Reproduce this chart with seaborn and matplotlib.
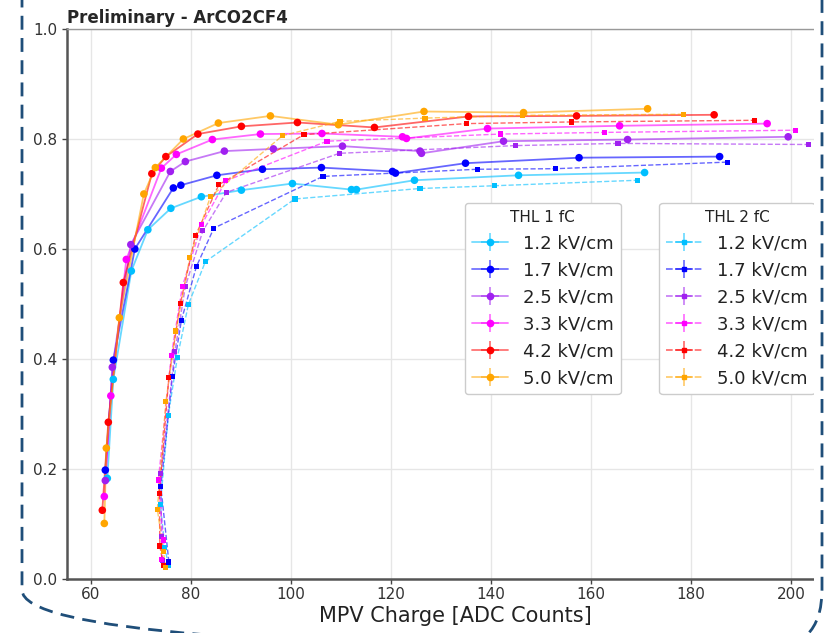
import matplotlib
matplotlib.use("Agg")
import matplotlib.pyplot as plt
import matplotlib.colors as mcolors
import numpy as np
import pandas as pd
import seaborn as sns
from matplotlib.lines import Line2D
from matplotlib.collections import LineCollection
from matplotlib.container import ErrorbarContainer
from matplotlib.patches import FancyBboxPatch, Rectangle
from matplotlib.transforms import Affine2D

# Drift fields and their colours
fields = ["1.2 kV/cm", "1.7 kV/cm", "2.5 kV/cm", "3.3 kV/cm", "4.2 kV/cm", "5.0 kV/cm"]
colors = ["#00bfff", "#0000ff", "#a020f0", "#ff00ff", "#ff0000", "#ffa500"]

# Threshold 1 fC: MPV charge [ADC] and efficiency
q1_12 = [63.3, 64.5, 68.1, 71.4, 76.0, 82.1, 90.1, 100.3, 112.1, 113.1, 124.7, 145.5, 170.7]
e1_12 = [0.183, 0.363, 0.560, 0.635, 0.674, 0.695, 0.707, 0.719, 0.708, 0.708, 0.725, 0.734, 0.739]
q1_17 = [62.9, 64.5, 68.8, 76.5, 78.0, 85.2, 94.3, 106.1, 120.3, 120.9, 134.9, 157.6, 185.7]
e1_17 = [0.198, 0.398, 0.600, 0.711, 0.716, 0.734, 0.745, 0.748, 0.741, 0.738, 0.756, 0.766, 0.768]
q1_25 = [62.9, 64.3, 68.0, 75.9, 78.9, 86.7, 96.5, 110.3, 125.8, 126.1, 142.5, 167.3, 199.4]
e1_25 = [0.179, 0.385, 0.608, 0.741, 0.759, 0.778, 0.782, 0.787, 0.778, 0.774, 0.796, 0.799, 0.804]
q1_33 = [62.7, 64.0, 67.1, 74.1, 77.1, 84.3, 93.9, 106.2, 122.3, 123.1, 139.3, 165.7, 195.2]
e1_33 = [0.150, 0.333, 0.581, 0.747, 0.772, 0.799, 0.809, 0.810, 0.804, 0.801, 0.819, 0.824, 0.828]
q1_42 = [62.3, 63.5, 66.5, 72.2, 75.0, 81.4, 90.1, 101.3, 116.7, 135.5, 157.1, 184.6]
e1_42 = [0.125, 0.285, 0.539, 0.737, 0.768, 0.809, 0.823, 0.830, 0.821, 0.841, 0.842, 0.844]
q1_50 = [62.7, 63.1, 65.7, 70.6, 72.9, 78.5, 85.5, 95.9, 109.5, 126.6, 146.5, 171.3]
e1_50 = [0.101, 0.238, 0.475, 0.700, 0.748, 0.800, 0.829, 0.842, 0.826, 0.850, 0.848, 0.855]

# Threshold 2 fC
q2_12 = [75.5, 74.8, 73.9, 75.5, 77.3, 79.5, 82.9, 100.8, 125.8, 140.7, 169.3]
e2_12 = [0.025, 0.058, 0.135, 0.298, 0.403, 0.499, 0.577, 0.691, 0.710, 0.715, 0.725]
q2_17 = [75.6, 74.0, 76.3, 78.1, 81.1, 84.6, 106.4, 137.3, 152.9, 187.3]
e2_17 = [0.031, 0.168, 0.368, 0.470, 0.568, 0.638, 0.732, 0.745, 0.746, 0.758]
q2_25 = [74.3, 74.1, 74.0, 76.8, 78.9, 82.4, 87.1, 109.7, 144.9, 165.4, 203.5]
e2_25 = [0.033, 0.077, 0.192, 0.413, 0.532, 0.633, 0.703, 0.774, 0.788, 0.792, 0.790]
q2_33 = [74.1, 74.5, 73.5, 76.1, 78.3, 82.2, 87.0, 107.2, 141.9, 162.7, 200.9]
e2_33 = [0.035, 0.071, 0.180, 0.407, 0.532, 0.645, 0.724, 0.796, 0.809, 0.812, 0.816]
q2_42 = [74.5, 73.8, 73.7, 75.6, 77.9, 80.9, 85.6, 102.6, 135.1, 156.1, 192.6]
e2_42 = [0.025, 0.060, 0.155, 0.367, 0.501, 0.624, 0.717, 0.808, 0.828, 0.831, 0.834]
q2_50 = [75.0, 74.5, 73.3, 75.0, 77.0, 79.8, 83.9, 98.3, 109.8, 126.8, 146.3, 178.5]
e2_50 = [0.021, 0.050, 0.127, 0.322, 0.451, 0.585, 0.695, 0.806, 0.832, 0.838, 0.843, 0.845]

thl1 = [(q1_12, e1_12), (q1_17, e1_17), (q1_25, e1_25), (q1_33, e1_33), (q1_42, e1_42), (q1_50, e1_50)]
thl2 = [(q2_12, e2_12), (q2_17, e2_17), (q2_25, e2_25), (q2_33, e2_33), (q2_42, e2_42), (q2_50, e2_50)]


def to_frame(series):
    parts = []
    for name, (q, e) in zip(fields, series):
        parts.append(pd.DataFrame({"charge": q, "eff": e, "field": name}))
    return pd.concat(parts, ignore_index=True)


df1 = to_frame(thl1)
df2 = to_frame(thl2)

sns.set_theme(style="whitegrid", rc={"grid.color": "#e6e6e6", "grid.linewidth": 1.0})
plt.rcParams["font.family"] = ["DejaVu Sans"]

W, H = 828, 633
fig = plt.figure(figsize=(W / 100, H / 100), dpi=100)
ax = fig.add_axes([67 / W, 1 - 579 / H, (844 - 67) / W, 550 / H])
pal = dict(zip(fields, colors))

sns.lineplot(data=df1, x="charge", y="eff", hue="field", palette=pal, sort=False,
             estimator=None, lw=1.3, alpha=0.6, legend=False, ax=ax)
sns.scatterplot(data=df1, x="charge", y="eff", hue="field", palette=pal, marker="o",
                s=30, linewidth=0, legend=False, ax=ax, zorder=3)
sns.lineplot(data=df2, x="charge", y="eff", hue="field", palette=pal, sort=False,
             estimator=None, lw=1.0, alpha=0.6, linestyle="--", legend=False, ax=ax)
sns.scatterplot(data=df2, x="charge", y="eff", hue="field", palette=pal, marker="s",
                s=14, linewidth=0, legend=False, ax=ax, zorder=3)

ax.set_ylim(0, 1.0)
ax.set_xticks(np.arange(60, 201, 20))
ax.set_yticks(np.arange(0, 1.01, 0.2))
ax.set_xlabel("MPV Charge [ADC Counts]", fontsize=15, color="#222222", labelpad=3)
ax.set_ylabel("")
ax.set_title("Preliminary - ArCO2CF4", loc="left", fontweight="bold", fontsize=12, pad=4)

ax.tick_params(axis="both", which="major", direction="out", length=3.5, width=1,
               color="#444444", labelsize=11, labelcolor="#333333", left=True, bottom=True)
ax.tick_params(axis="x", pad=2)
for side in ("left", "bottom"):
    ax.spines[side].set_color("#555555")
    ax.spines[side].set_linewidth(1.8)
ax.spines["top"].set_color("#999999")
ax.spines["top"].set_linewidth(1.0)
ax.spines["right"].set_visible(False)


def err_handle(color, ls, marker, ms):
    faded = mcolors.to_rgba(color, 0.55)
    line = Line2D([], [], color=faded, ls=ls, lw=1.3, marker=marker, ms=ms,
                  mfc=color, mec=color)
    bx = LineCollection([], colors=[faded], linewidths=1.3)
    by = LineCollection([], colors=[faded], linewidths=1.3)
    return ErrorbarContainer((line, (), (bx, by)), has_xerr=True, has_yerr=True)


h1 = [err_handle(c, "-", "o", 4.5) for c in colors]
h2 = [err_handle(c, "--", "s", 3.5) for c in colors]

leg_kw = dict(loc="upper left", fontsize=13, title_fontsize=11, labelspacing=0.5,
              frameon=True, fancybox=True, edgecolor="#cccccc", framealpha=1.0,
              borderaxespad=0)
leg1 = ax.legend(h1, fields, title="THL 1 fC", bbox_to_anchor=(0.512, 0.684), **leg_kw)
ax.add_artist(leg1)
leg2 = ax.legend(h2, fields, title="THL 2 fC", bbox_to_anchor=(0.762, 0.684), **leg_kw)
for leg in (leg1, leg2):
    leg.get_title().set_color("#222222")
    for t in leg.get_texts():
        t.set_color("#222222")

# Slide frame: right margin and dashed rounded border
img = Affine2D().scale(1, -1).translate(0, H)
fig.add_artist(Rectangle((814, -10), 30, H + 20, transform=img, facecolor="white",
                         edgecolor="none", zorder=10))
fig.add_artist(FancyBboxPatch((22, -120), 800, 770, boxstyle="round,pad=0,rounding_size=60",
                              transform=img, fill=False, edgecolor="#1f4e79", lw=2,
                              linestyle=(0, (5, 3)), zorder=11))

fig.savefig("out.png", dpi=100)
